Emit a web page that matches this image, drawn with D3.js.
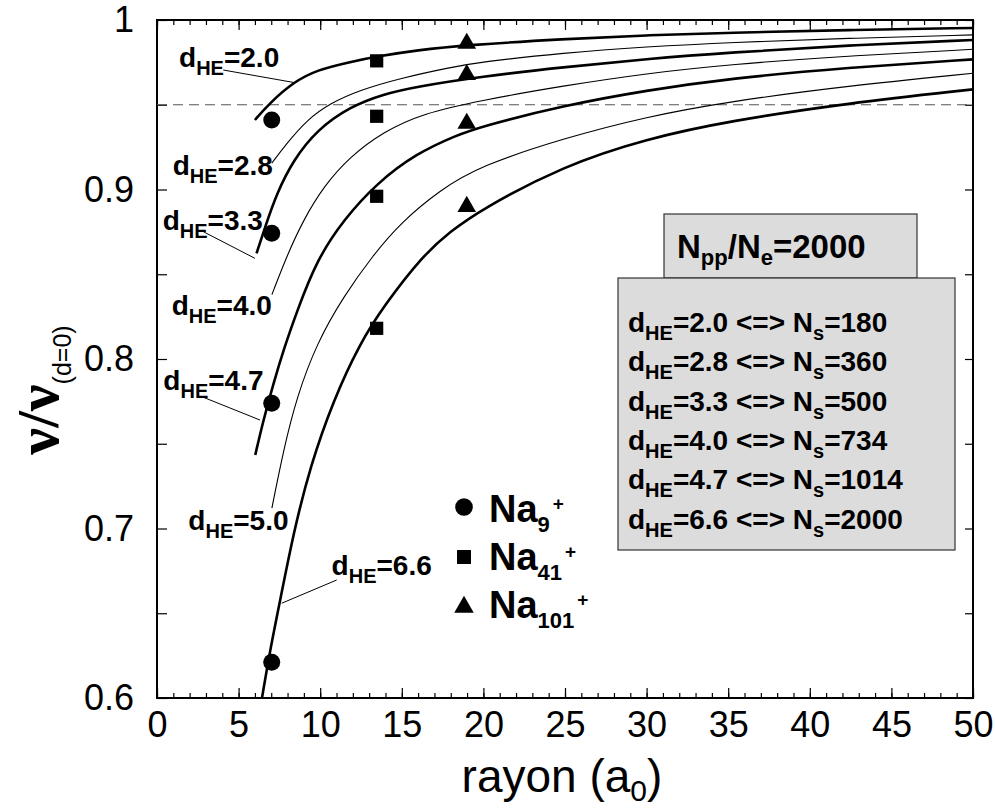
<!DOCTYPE html>
<html><head><meta charset="utf-8">
<script src="https://cdn.jsdelivr.net/npm/d3@7"></script>
<style>body{margin:0;background:#fff} svg{display:block}</style>
</head><body><svg id="c" width="995" height="811"></svg>
<script>
// ---------------- data ----------------
const xTickValues = [0,5,10,15,20,25,30,35,40,45,50];
const yTickValues = [0.6,0.7,0.8,0.9,1.0];
const yTickLabels = ["0.6","0.7","0.8","0.9","1"];
const refLevel = 0.95;

// curves nu/nu0 vs radius
const c20 = [[6.0,.941],[6.9,.951],[8.4,.9636],[9.8,.9705],[11.8,.9752],[13.5,.9785],[15.9,.9822],[19.0,.9852],[24.9,.9888],[30,.9910],[35,.9925],[42.3,.9941],[50,.9953]];
const c28 = [[7.03,.9155],[7.96,.9273],[9.18,.941],[10.61,.9509],[12.44,.9587],[14.89,.9656],[17.95,.972],[19.8,.9752],[24.9,.9806],[30,.9842],[35.1,.9868],[42.3,.9892],[50,.9912]];
const c33 = [[6.1,.8623],[6.63,.878],[7.34,.8978],[8.36,.9174],[9.79,.9351],[11.83,.9489],[13.87,.9563],[15.91,.9607],[19.8,.9666],[24.9,.9722],[30,.9770],[35.1,.9808],[42.3,.9851],[50,.9882]];
const c40 = [[7.04,.838],[7.96,.861],[8.97,.882],[10.2,.9017],[11.83,.9194],[13.87,.9341],[16.32,.945],[19.8,.9525],[24.9,.9612],[30,.9685],[35.1,.9738],[42.3,.9788],[50,.9827]];
const c47 = [[6.02,.7434],[6.52,.764],[7.14,.7857],[7.75,.8053],[8.57,.828],[9.79,.8584],[11.42,.882],[13.46,.9037],[15.91,.9214],[18.36,.932],[19.8,.937],[24.9,.9495],[30,.9585],[35.1,.9655],[42.3,.9719],[50,.9768]];
const c50 = [[7.04,.712],[7.75,.7463],[8.57,.7778],[9.79,.8093],[11.42,.8368],[13.26,.8615],[14.89,.88],[17.34,.8997],[19.8,.9139],[24.9,.9302],[30,.943],[35.1,.952],[42.3,.9611],[50,.9686]];
const c66 = [[6.43,.5998],[6.93,.6283],[7.55,.6578],[8.36,.6972],[9.38,.7365],[10.81,.7758],[12.44,.8093],[13.87,.8309],[16.32,.8614],[17.95,.875],[19.8,.8879],[24.9,.914],[30,.930],[35.1,.9405],[42.3,.9509],[50,.9591]];
const curveNames = ["2.0","2.8","3.3","4.0","4.7","5.0","6.6"];
const curveThick = [true,false,true,false,true,false,true];

// cluster points
const na9R = 7.03,  na9 = [0.941,0.8742,0.7739,0.6211];
const na41R = 13.46, na41 = [0.9759,0.9432,0.896,0.8181];
const na101R = 18.98, na101 = [0.9862,0.9677,0.939,0.8899];
const legendNames = ["9","41","101"];

// box contents
const boxTitleValue = "2000";
const dheList = ["2.0","2.8","3.3","4.0","4.7","6.6"];
const nsList = [180,360,500,734,1014,2000];

// ---------------- layout ----------------
const L=157, R=973, T=20, B=698;
const svg = d3.select("#c");
const x = d3.scaleLinear().domain([0,50]).range([L,R]);
const y = d3.scaleLinear().domain([0.6,1]).range([B,T]);
const SANS = "'Liberation Sans', Arial, Helvetica, sans-serif";

svg.append("rect").attr("width",995).attr("height",811).attr("fill","#fff");
svg.append("defs").append("clipPath").attr("id","clip")
  .append("rect").attr("x",L).attr("y",T).attr("width",R-L).attr("height",B-T);

// axes (ticks inward)
const minorX = d3.range(0,51,1), minorY = d3.range(0.6,1.0001,0.05);
function styleAxis(g){ g.select(".domain").remove(); g.selectAll("line").attr("stroke","#000").attr("stroke-width",1.2); }
svg.append("g").attr("transform",`translate(0,${B})`)
  .call(d3.axisBottom(x).tickValues(minorX).tickSizeInner(-5).tickSizeOuter(0).tickFormat(""))
  .call(styleAxis);
svg.append("g").attr("transform",`translate(0,${B})`)
  .call(d3.axisBottom(x).tickValues(xTickValues).tickSizeInner(-10).tickSizeOuter(0).tickPadding(13).tickFormat(d3.format("d")))
  .call(styleAxis)
  .call(g=>g.selectAll("text").attr("font-family",SANS).attr("font-size",36).attr("fill","#000"));
svg.append("g").attr("transform",`translate(0,${T})`)
  .call(d3.axisTop(x).tickValues(minorX).tickSizeInner(-5).tickSizeOuter(0).tickFormat(""))
  .call(styleAxis);
svg.append("g").attr("transform",`translate(0,${T})`)
  .call(d3.axisTop(x).tickValues(xTickValues).tickSizeInner(-10).tickSizeOuter(0).tickFormat(""))
  .call(styleAxis);
svg.append("g").attr("transform",`translate(${L},0)`)
  .call(d3.axisLeft(y).tickValues(minorY).tickSizeInner(-10).tickSizeOuter(0).tickFormat(""))
  .call(styleAxis);
svg.append("g").attr("transform",`translate(${L},0)`)
  .call(d3.axisLeft(y).tickValues(yTickValues).tickSizeInner(0).tickSizeOuter(0).tickPadding(23).tickFormat((d,i)=>yTickLabels[i]))
  .call(styleAxis)
  .call(g=>g.selectAll("text").attr("font-family",SANS).attr("font-size",36).attr("fill","#000"));
svg.append("g").attr("transform",`translate(${R},0)`)
  .call(d3.axisRight(y).tickValues(minorY).tickSizeInner(-8).tickSizeOuter(0).tickFormat(""))
  .call(styleAxis);

// frame
svg.append("rect").attr("x",L).attr("y",T).attr("width",R-L).attr("height",B-T)
  .attr("fill","none").attr("stroke","#000").attr("stroke-width",2);

// dashed reference
svg.append("line").attr("x1",x(0)).attr("x2",x(50)).attr("y1",y(refLevel)).attr("y2",y(refLevel))
  .attr("stroke","#555").attr("stroke-width",1.2).attr("stroke-dasharray","10,6");

// curves
const curveData = [c20,c28,c33,c40,c47,c50,c66];
const line = d3.line().x(d=>x(d[0])).y(d=>y(d[1])).curve(d3.curveBasis);
svg.append("g").attr("clip-path","url(#clip)").selectAll("path").data(curveData).join("path")
  .attr("d",line).attr("fill","none").attr("stroke","#000")
  .attr("stroke-width",(d,i)=>curveThick[i]?2.6:1.1);

// curve labels (positions in data units)
const labelPos = {"2.0":[1.35,.9723],"2.8":[0.96,.9086],"3.3":[0.35,.8761],"4.0":[0.90,.826],"4.7":[0.39,.7817],"5.0":[1.92,.6991],"6.6":[10.70,.6726]};
const leaders = {"2.0":[[4.06,.9705],[8.46,.963]],"3.3":[[2.84,.8751],[6.0,.8594]],"4.7":[[2.74,.7778],[6.31,.764]],"6.6":[[11.01,.6696],[7.64,.6559]]};
Object.entries(leaders).forEach(([k,p])=>{
  svg.append("line").attr("x1",x(p[0][0])).attr("y1",y(p[0][1])).attr("x2",x(p[1][0])).attr("y2",y(p[1][1]))
    .attr("stroke","#000").attr("stroke-width",1);
});
function dheText(g, px, py, val, fs, sfs, shift){
  const t = g.append("text").attr("x",px).attr("y",py).attr("font-family",SANS).attr("font-weight","bold").attr("font-size",fs).attr("fill","#000");
  t.append("tspan").text("d");
  t.append("tspan").attr("font-size",sfs).attr("dy",shift).text("HE");
  t.append("tspan").attr("dy",-shift).text("="+val);
  return t;
}
curveNames.forEach(n=>{
  const p = labelPos[n];
  dheText(svg, x(p[0]), y(p[1]), n, 28, 20, 8);
});

// markers
const sym = (type,size)=>d3.symbol().type(type).size(size)();
function pts(rx, vals, type, size){
  svg.append("g").selectAll("path").data(vals).join("path")
    .attr("transform",d=>`translate(${x(rx)},${y(d)})`).attr("d",sym(type,size)).attr("fill","#000");
}
pts(na9R, na9, d3.symbolCircle, 227);
pts(na41R, na41, d3.symbolSquare, 175);
pts(na101R, na101, d3.symbolTriangle, 150);

// legend
const leg = svg.append("g").attr("transform","translate(464,0)");
const legTypes = [[d3.symbolCircle,243,507],[d3.symbolSquare,195,557],[d3.symbolTriangle,165,607]];
const legBase = [522,570,618];
legTypes.forEach((s,i)=>{
  leg.append("path").attr("transform",`translate(0,${s[2]})`).attr("d",sym(s[0],s[1])).attr("fill","#000");
  const t = leg.append("text").attr("x",25).attr("y",legBase[i]).attr("font-family",SANS).attr("font-weight","bold").attr("font-size",38).attr("fill","#000");
  t.append("tspan").text("Na");
  t.append("tspan").attr("font-size",22).attr("dy",10).text(legendNames[i]);
  t.append("tspan").attr("font-size",19).attr("dy",-22).attr("dx",3).text("+");
});

// boxes
svg.append("rect").attr("x",664).attr("y",214).attr("width",253).attr("height",64)
  .attr("fill","#dcdcdc").attr("stroke","#333").attr("stroke-width",1.2);
svg.append("rect").attr("x",618).attr("y",278).attr("width",337).attr("height",272)
  .attr("fill","#dcdcdc").attr("stroke","#333").attr("stroke-width",1.2);
const bt = svg.append("text").attr("x",677).attr("y",258).attr("font-family",SANS).attr("font-weight","bold").attr("font-size",33).attr("fill","#000");
bt.append("tspan").text("N");
bt.append("tspan").attr("font-size",22).attr("dy",7).text("pp");
bt.append("tspan").attr("dy",-7).text("/N");
bt.append("tspan").attr("font-size",22).attr("dy",7).text("e");
bt.append("tspan").attr("dy",-7).text("="+boxTitleValue);

dheList.forEach((v,i)=>{
  const t = dheText(svg, 628, 332 + i*39.3, v, 28, 20, 8);
  t.append("tspan").text(" <=> N");
  t.append("tspan").attr("font-size",20).attr("dy",8).text("s");
  t.append("tspan").attr("dy",-8).text("="+nsList[i]);
});

// axis titles
const xt = svg.append("text").attr("x",562).attr("y",792).attr("text-anchor","middle")
  .attr("font-family",SANS).attr("font-size",46).attr("fill","#000");
xt.append("tspan").text("rayon (a");
xt.append("tspan").attr("font-size",30).attr("dy",9).text("0");
xt.append("tspan").attr("dy",-9).text(")");

const yt = svg.append("text").attr("transform","translate(58,390) rotate(-90)").attr("text-anchor","middle").attr("fill","#000");
yt.append("tspan").attr("font-family","'Liberation Serif', 'DejaVu Serif', serif").attr("font-weight","bold").attr("font-size",60).text("ν/ν");
yt.append("tspan").attr("font-family",SANS).attr("font-size",25).attr("dy",13).text("(d=0)");
</script></body></html>
